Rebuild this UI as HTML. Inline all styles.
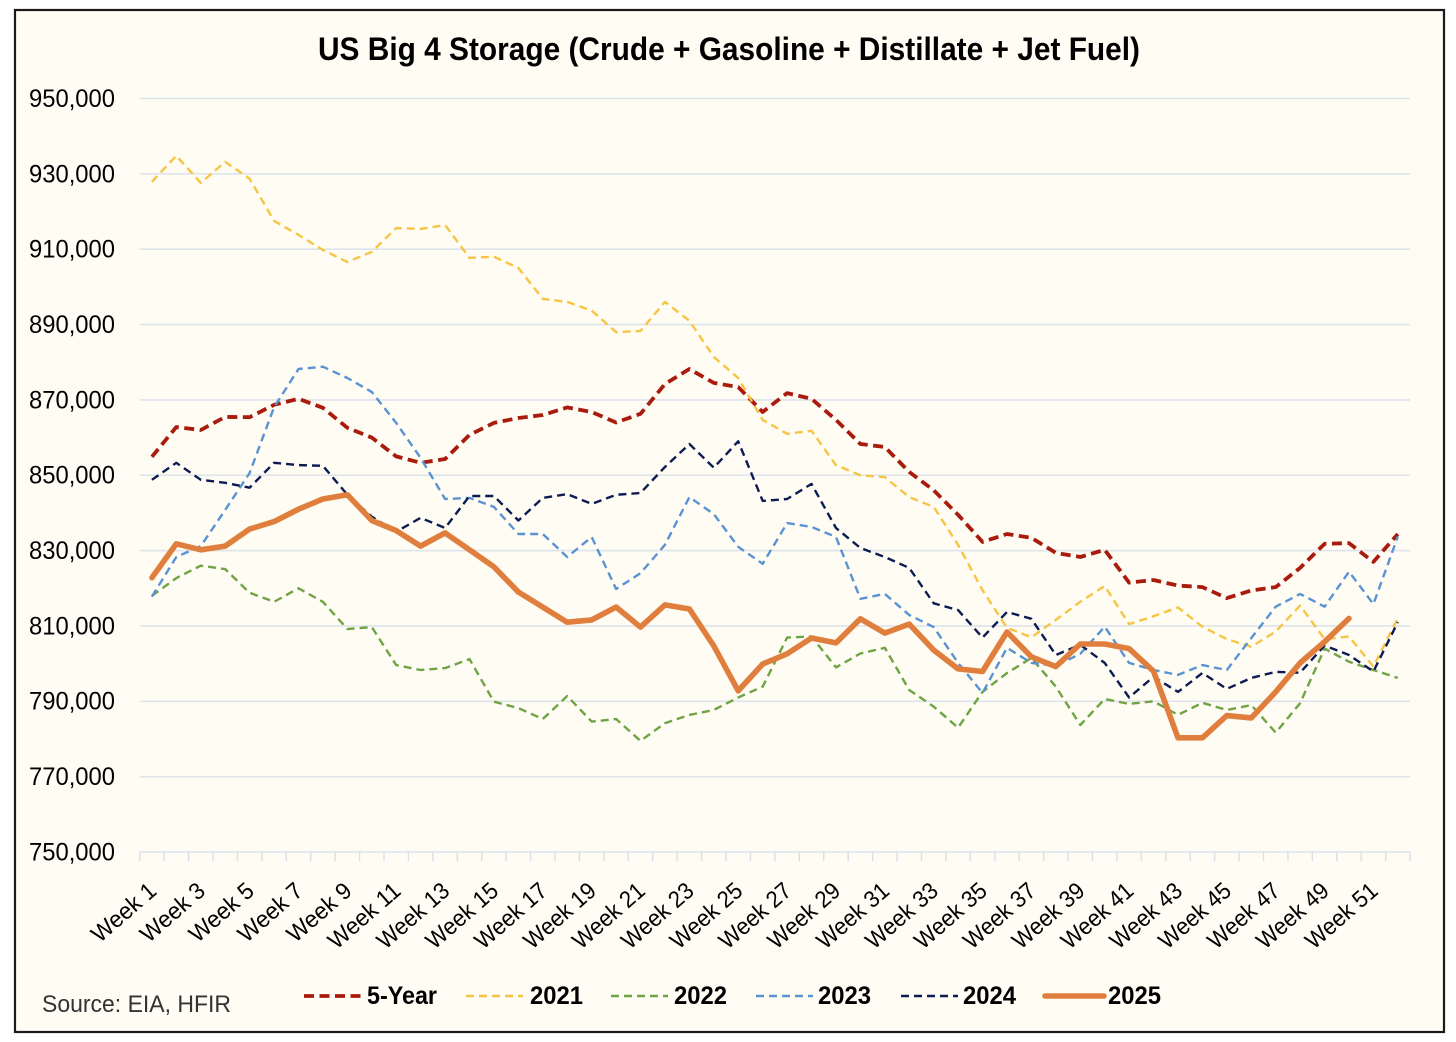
<!DOCTYPE html>
<html lang="en">
<head>
<meta charset="utf-8">
<title>US Big 4 Storage</title>
<style>
  html, body { margin: 0; padding: 0; background: #ffffff; }
  body { width: 1456px; height: 1042px; overflow: hidden; }
  svg { display: block; font-family: "Liberation Sans", sans-serif; }
</style>
</head>
<body>
<svg id="chart" width="1456" height="1042" viewBox="0 0 1456 1042" xmlns="http://www.w3.org/2000/svg">
  <rect x="15" y="10" width="1429" height="1022" fill="#fffcf4" stroke="#1a1a1a" stroke-width="2.2"/>
  <text x="729" y="60" text-anchor="middle" font-size="32" font-weight="700" fill="#000000" textLength="822" lengthAdjust="spacingAndGlyphs">US Big 4 Storage (Crude + Gasoline + Distillate + Jet Fuel)</text>
  <text x="42" y="1012" font-size="24.5" fill="#333333" textLength="189" lengthAdjust="spacingAndGlyphs">Source: EIA, HFIR</text>
  <g id="grid"></g>
  <g id="yaxis"></g>
  <g id="xaxis"></g>
  <g id="series"></g>
  <g id="legend"></g>
</svg>
<script>
const categories = ["Week 1","Week 2","Week 3","Week 4","Week 5","Week 6","Week 7","Week 8","Week 9","Week 10","Week 11","Week 12","Week 13","Week 14","Week 15","Week 16","Week 17","Week 18","Week 19","Week 20","Week 21","Week 22","Week 23","Week 24","Week 25","Week 26","Week 27","Week 28","Week 29","Week 30","Week 31","Week 32","Week 33","Week 34","Week 35","Week 36","Week 37","Week 38","Week 39","Week 40","Week 41","Week 42","Week 43","Week 44","Week 45","Week 46","Week 47","Week 48","Week 49","Week 50","Week 51","Week 52"];
const yTicks = [750000,770000,790000,810000,830000,850000,870000,890000,910000,930000,950000];
const fiveYear = [854900,862800,862000,865500,865400,868700,870300,867900,862600,860000,855000,853300,854300,860700,863900,865200,866000,868000,866800,864000,866300,874200,878200,874500,873400,866800,871800,870300,864700,858300,857500,850900,846000,839500,832300,834400,833400,829400,828300,830200,821500,822200,820700,820300,817400,819400,820300,825400,831800,832000,827000,834400];
const y2021 = [927900,934800,927600,933200,928700,917500,913800,909800,906600,909300,915600,915400,916400,907700,908000,905000,896800,896000,893700,888000,888300,896000,891000,881400,875800,864700,861000,861800,852700,850000,849500,844200,841600,831500,819500,809500,807000,811600,816400,820600,810500,812600,814900,809800,806500,804500,808500,815400,806500,807200,799200,812000];
const y2022 = [818000,822700,826000,825100,818800,816400,820000,816400,809200,809700,799600,798300,798800,801200,789900,788200,785300,791400,784600,785300,779500,784200,786400,787700,791000,793900,806900,807200,799000,802700,804200,793000,788600,783000,792500,797500,801500,793900,783700,790600,789300,790000,786400,789600,787700,789000,781700,789500,804000,800500,798300,796200];
const y2023 = [817800,828300,831200,840800,850600,868100,878200,878800,875800,872100,863900,854600,843700,844000,841600,834400,834400,828300,833600,819800,824000,831500,844200,839700,831000,826500,837300,836300,833600,817200,818500,812900,809700,800200,792200,804200,800200,799400,802600,809800,800200,798300,797000,799600,798300,806800,815100,818500,815100,824400,815800,833700];
const y2024 = [848800,853300,848800,848000,846700,853300,852700,852500,844800,839000,835000,838700,836000,844500,844500,838000,844000,845000,842400,844800,845300,852200,858300,852000,859000,843200,843700,847700,836000,830700,828300,825400,816000,814200,806900,813700,811900,802300,805000,800200,791000,796500,792500,797500,793300,796200,797800,797600,804800,802300,797900,811000];
const y2025 = [822800,831800,830200,831200,835700,837700,841000,843700,844800,838000,835300,831200,834700,830200,825700,819000,815000,811000,811600,815000,809700,815600,814500,804700,792800,799900,802600,806800,805500,811900,808100,810500,803600,798600,797900,808400,801800,799200,805200,805200,804000,798000,780300,780300,786200,785600,792500,800200,805800,812000];
const seriesNames = ["5-Year","2021","2022","2023","2024","2025"];
const seriesValues = [fiveYear,y2021,y2022,y2023,y2024,y2025];

const NS = "http://www.w3.org/2000/svg";
const plotLeft = 139.7, catWidth = 24.43, yBottom = 852, yTop = 98.5, yMin = 750000, yMax = 950000;
const styles = [
  {color:"#a91b0d", width:3.8, dash:"10 5.5", cap:"butt"},
  {color:"#f7c544", width:2.4, dash:"8 5", cap:"butt"},
  {color:"#6fa344", width:2.4, dash:"8 5", cap:"butt"},
  {color:"#5a93d3", width:2.4, dash:"8 5", cap:"butt"},
  {color:"#0c1b52", width:2.4, dash:"8 5", cap:"butt"},
  {color:"#e07f3d", width:5.6, dash:"", cap:"round"}
];
const legendLines = [[304,362],[466,523],[611,668],[756,813],[901,958],[1045,1104]];
const legendText = [[367,70],[530,53],[674,53],[818,53],[963,53],[1108,53]];

function xScale(i) { return plotLeft + catWidth * (i + 0.5); }
function yScale(v) { return yBottom - (v - yMin) / (yMax - yMin) * (yBottom - yTop); }
function make(tag, attrs) {
  const el = document.createElementNS(NS, tag);
  for (const k in attrs) el.setAttribute(k, attrs[k]);
  return el;
}

const grid = document.getElementById("grid");
const yaxis = document.getElementById("yaxis");
yTicks.forEach(function (t) {
  const y = yScale(t);
  const line = make("line", {x1: plotLeft, x2: plotLeft + catWidth * categories.length, y1: y, y2: y, stroke: "#dde4ec", "stroke-width": 1.6});
  
  
  grid.appendChild(line);
  const label = make("text", {x: 115, y: y + 8.4, "text-anchor": "end", "font-size": 24.8, fill: "#000000", textLength: 86, lengthAdjust: "spacingAndGlyphs"});
  
  
  label.textContent = t.toLocaleString("en-US");
  yaxis.appendChild(label);
});

const xaxis = document.getElementById("xaxis");
for (let i = 0; i <= categories.length; i++) {
  const x = plotLeft + catWidth * i;
  const tick = make("line", {x1: x, x2: x, y1: yBottom, y2: yBottom + 9, stroke: "#d6dfea", "stroke-width": 1.4});
  
  
  xaxis.appendChild(tick);
}
categories.forEach(function (c, i) {
  if (i % 2 !== 0) return;
  const x = xScale(i) + 6, y = 893;
  const len = c.length > 6 ? 87 : 77;
  const label = make("text", {x: x, y: y, "text-anchor": "end", "font-size": 23.5, fill: "#000000", textLength: len, lengthAdjust: "spacingAndGlyphs", transform: "rotate(-41 " + x + " " + y + ")"});
  
  
  label.textContent = c;
  xaxis.appendChild(label);
});

const seriesGroup = document.getElementById("series");
seriesValues.forEach(function (vals, s) {
  const st = styles[s];
  const pts = vals.map(function (v, i) { return xScale(i).toFixed(1) + "," + yScale(v).toFixed(1); }).join(" ");
  const poly = make("polyline", {points: pts, fill: "none", stroke: st.color, "stroke-width": st.width, "stroke-linejoin": "round", "stroke-linecap": st.cap});
  if (st.dash) poly.setAttribute("stroke-dasharray", st.dash);
  
  
  seriesGroup.appendChild(poly);
});

const legend = document.getElementById("legend");
seriesNames.forEach(function (name, s) {
  const st = styles[s];
  const sample = make("line", {x1: legendLines[s][0], x2: legendLines[s][1], y1: 996, y2: 996, stroke: st.color, "stroke-width": st.width, "stroke-linecap": st.cap});
  if (st.dash) sample.setAttribute("stroke-dasharray", st.dash);
  
  
  legend.appendChild(sample);
  const label = make("text", {x: legendText[s][0], y: 1004, "font-size": 25, "font-weight": 700, fill: "#000000", textLength: legendText[s][1], lengthAdjust: "spacingAndGlyphs"});
  
  
  label.textContent = name;
  legend.appendChild(label);
});
</script>
</body>
</html>
